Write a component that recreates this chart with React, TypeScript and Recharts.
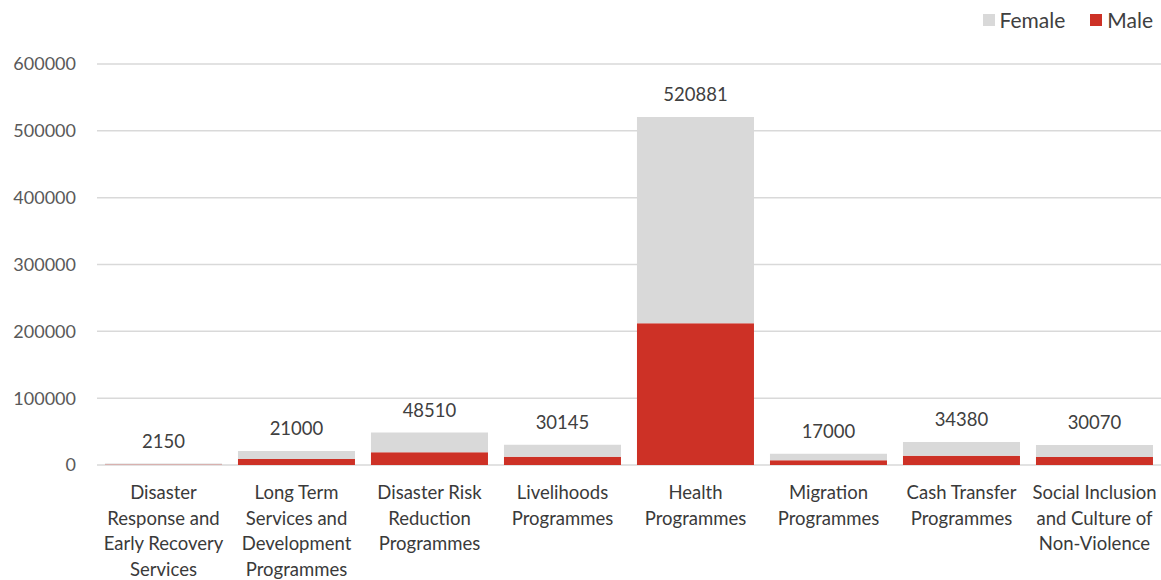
import { BarChart, Bar, XAxis, YAxis, CartesianGrid, LabelList } from "recharts";

const categories = [
  "Disaster\nResponse and\nEarly Recovery\nServices",
  "Long Term\nServices and\nDevelopment\nProgrammes",
  "Disaster Risk\nReduction\nProgrammes",
  "Livelihoods\nProgrammes",
  "Health\nProgrammes",
  "Migration\nProgrammes",
  "Cash Transfer\nProgrammes",
  "Social Inclusion\nand Culture of\nNon-Violence",
];
const totals = [2150, 21000, 48510, 30145, 520881, 17000, 34380, 30070];
const male = [700, 9000, 19000, 12500, 212000, 7000, 14000, 12000];
const female = totals.map((t, i) => t - male[i]);
const yTicks = [0, 100000, 200000, 300000, 400000, 500000, 600000];
const legendItems = [
  { label: "Female", color: "#D9D9D9" },
  { label: "Male", color: "#CD3126" },
];

const data = categories.map((name, i) => ({
  name,
  male: male[i],
  female: female[i],
  total: totals[i],
}));

const FONT = "Lato, 'Open Sans', sans-serif";
const RED = "#CD3126";
const GRAY = "#D9D9D9";

const CategoryTick = (props: any) => {
  const { x, y, payload } = props;
  const lines = String(payload.value).split("\n");
  return (
    <text x={x} y={y} textAnchor="middle" fill="#3A3A3A" fontSize={18.5} fontFamily={FONT}>
      {lines.map((l, i) => (
        <tspan key={i} x={x} dy={i === 0 ? 26 : 25.5}>
          {l}
        </tspan>
      ))}
    </text>
  );
};

const TotalLabel = (props: any) => {
  const { x, y, width, index } = props;
  return (
    <text
      x={x + width / 2}
      y={y - 16}
      textAnchor="middle"
      fill="#404040"
      fontSize={18.5}
      fontFamily={FONT}
    >
      {totals[index]}
    </text>
  );
};

export default function App() {
  return (
    <div style={{ position: "absolute", left: 0, top: 0, width: 1161, height: 580, background: "#fff" }}>
      <div
        style={{
          position: "absolute",
          top: 7,
          right: 8,
          display: "flex",
          gap: 25,
          fontFamily: FONT,
          fontSize: 21,
          color: "#404040",
          zIndex: 1,
        }}
      >
        {legendItems.map((it) => (
          <div key={it.label} style={{ display: "flex", alignItems: "center", gap: 5 }}>
            <span style={{ width: 12, height: 12, background: it.color, display: "inline-block" }} />
            <span>{it.label}</span>
          </div>
        ))}
      </div>
      <BarChart
        width={1161}
        height={580}
        data={data}
        margin={{ top: 64, right: 0, bottom: 0, left: 0 }}
        barCategoryGap="6%"
      >
        <CartesianGrid vertical={false} stroke="#D9D9D9" strokeWidth={1.5} />
        <XAxis
          dataKey="name"
          axisLine={false}
          tickLine={false}
          height={115}
          interval={0}
          tick={<CategoryTick />}
        />
        <YAxis
          width={97}
          domain={[0, 600000]}
          ticks={yTicks}
          axisLine={false}
          tickLine={false}
          tickMargin={15}
          tick={{ fill: "#595959", fontSize: 18, fontFamily: FONT }}
        />
        <Bar dataKey="male" stackId="a" fill={RED} isAnimationActive={false} />
        <Bar dataKey="female" stackId="a" fill={GRAY} isAnimationActive={false}>
          <LabelList dataKey="total" content={<TotalLabel />} />
        </Bar>
      </BarChart>
    </div>
  );
}
